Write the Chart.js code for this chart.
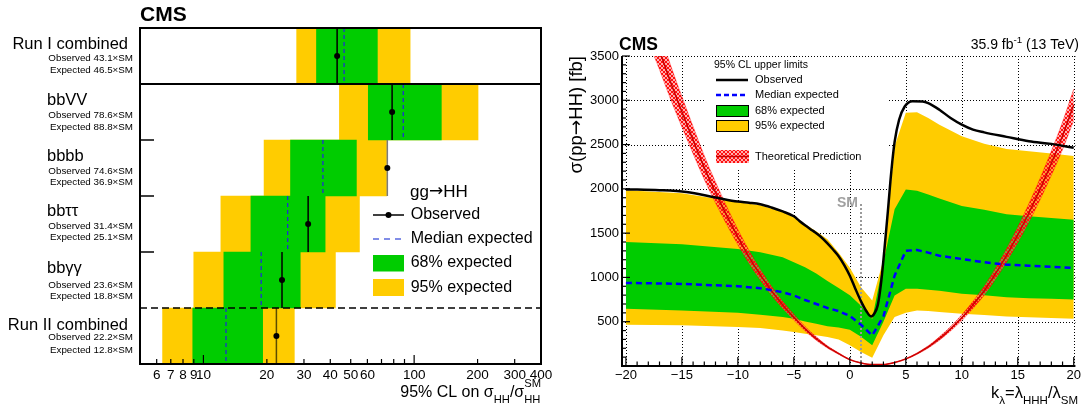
<!DOCTYPE html>
<html>
<head>
<meta charset="utf-8">
<script src="https://cdn.jsdelivr.net/npm/chart.js@4.4.1/dist/chart.umd.min.js"></script>
<style>
  html, body { margin: 0; padding: 0; background: #fff; }
  #wrap { position: relative; width: 1083px; height: 410px; }
  canvas { position: absolute; left: 0; top: 0; }
</style>
</head>
<body>
<div id="wrap">
  <canvas id="left" width="1083" height="410"></canvas>
  <canvas id="right" width="1083" height="410"></canvas>
</div>
<script>
// ---- left panel: limits per channel (x SM) ----
const channels = ['Run I combined', 'bbVV', 'bbbb', 'bbττ', 'bbγγ', 'Run II combined'];
const observed = [43.1, 78.6, 74.6, 31.4, 23.6, 22.2];
const expected = [46.5, 88.8, 36.9, 25.1, 18.8, 12.8];
const lo68 = [34.4, 60.6, 25.9, 16.8, 12.5, 8.9];
const hi68 = [66.9, 134.6, 53.2, 37.8, 28.8, 19.1];
const lo95 = [27.7, 44.2, 19.4, 12.1, 9.0, 6.4];
const hi95 = [95.7, 201, 74.0, 55.0, 42.3, 27.0];
const logTicks = [6, 7, 8, 9, 10, 20, 30, 40, 50, 60, 70, 80, 90, 100, 200, 300, 400];
const logLabels = [6, 7, 8, 9, 10, 20, 30, 40, 50, 60, 100, 200, 300, 400];

// ---- right panel: limits vs k_lambda (fb) ----
const kObs = [-20, -17, -14.6, -12, -10, -9, -8, -7, -6, -5, -4.5, -4, -3.3, -2.7, -2, -1.5, -1, -0.5, 0, 0.5, 1, 1.5, 1.9, 2.2, 2.5, 2.8, 3.1, 3.4, 3.7, 4, 4.4, 4.9, 5.6, 6.5, 7, 8, 9, 10, 11, 12, 14, 16, 18, 20];
const obsLimit = [1994, 1985, 1964, 1903, 1856, 1843, 1826, 1790, 1745, 1690, 1638, 1590, 1526, 1470, 1385, 1315, 1240, 1140, 1020, 870, 730, 615, 560, 595, 690, 950, 1330, 1750, 2190, 2530, 2780, 2930, 2990, 2987, 2968, 2893, 2800, 2725, 2669, 2638, 2587, 2537, 2508, 2463];

const kExp = [-20, -15, -10, -8, -6, -5, -4, -3, -2, -1, 0, 1, 2, 3, 4, 5, 6, 7, 8, 10, 12, 14, 16, 18, 20];
const exp95Hi = [1985, 1950, 1850, 1815, 1740, 1680, 1600, 1520, 1430, 1280, 1110, 890, 740, 1200, 2480, 2860, 2865, 2800, 2725, 2595, 2510, 2450, 2425, 2400, 2370];
const exp68Hi = [1400, 1375, 1320, 1283, 1227, 1171, 1115, 1045, 960, 880, 800, 680, 530, 1170, 1770, 1994, 1978, 1935, 1890, 1807, 1765, 1713, 1690, 1670, 1650];
const expMedian = [938, 927, 901, 879, 834, 796, 745, 700, 655, 620, 565, 465, 345, 560, 1020, 1300, 1310, 1280, 1245, 1208, 1171, 1144, 1133, 1121, 1107];
const exp68Lo = [646, 627, 601, 579, 553, 534, 503, 478, 450, 435, 410, 330, 234, 500, 796, 871, 871, 860, 850, 815, 800, 777, 765, 758, 751];
const exp95Lo = [466, 459, 440, 429, 402, 384, 365, 346, 328, 300, 234, 159, 92, 346, 553, 600, 627, 620, 610, 590, 575, 560, 550, 542, 534];

const kTheo = [-20, -19, -18, -17, -16, -15, -14, -13, -12, -11, -10, -9, -8, -7, -6, -5, -4, -3, -2, -1, 0, 1, 2, 3, 4, 5, 6, 7, 8, 9, 10, 11, 12, 13, 14, 15, 16, 17, 18, 19, 20];
const theory = [4720, 4300, 3900, 3560, 3200, 2870, 2550, 2240, 1960, 1700, 1455, 1230, 1030, 850, 690, 550, 420, 310, 215, 140, 72, 34, 16, 17, 40, 80, 140, 215, 310, 420, 545, 690, 850, 1040, 1250, 1480, 1730, 2000, 2290, 2600, 2950];
const theoryHi = [5003, 4558, 4134, 3774, 3392, 3042, 2703, 2374, 2078, 1802, 1542, 1304, 1092, 901, 731, 583, 445, 329, 228, 148, 76, 36, 17, 18, 42, 85, 148, 228, 329, 445, 578, 731, 901, 1102, 1325, 1569, 1834, 2120, 2427, 2756, 3127];
const theoryLo = [4437, 4042, 3666, 3346, 3008, 2698, 2397, 2106, 1842, 1598, 1368, 1156, 968, 799, 649, 517, 395, 291, 202, 132, 68, 32, 15, 16, 38, 75, 132, 202, 291, 395, 512, 649, 799, 978, 1175, 1391, 1626, 1880, 2153, 2444, 2773];
const smK = 1;
const smTop = 1830;

const FONT = '"Liberation Sans", Arial, Helvetica, sans-serif';
const ARROW_FONT = '"DejaVu Sans", sans-serif';
Chart.defaults.font.family = FONT;
Chart.defaults.color = '#000';

const GREEN = '#00cc00';
const YELLOW = '#ffcc00';

function seg(ctx, x1, y1, x2, y2) {
  ctx.beginPath(); ctx.moveTo(x1, y1); ctx.lineTo(x2, y2); ctx.stroke();
}

// text with sub/superscripts; part = [text, 'n'|'sub'|'sup'|'subsup', subText]
function richText(ctx, x, y, parts, size, align, sub, sup) {
  const big = size + 'px ' + FONT;
  const small = (size * 0.7).toFixed(1) + 'px ' + FONT;
  const w = parts.map(p => {
    ctx.font = p[1] === 'n' ? big : small;
    let ww = ctx.measureText(p[0]).width;
    if (p[2]) ww = Math.max(ww, ctx.measureText(p[2]).width);
    return ww;
  });
  let cx = align === 'right' ? x - w.reduce((s, v) => s + v, 0) : x;
  ctx.textAlign = 'left';
  ctx.textBaseline = 'alphabetic';
  parts.forEach((p, i) => {
    ctx.font = p[1] === 'n' ? big : small;
    if (p[1] === 'n') ctx.fillText(p[0], cx, y);
    else if (p[1] === 'sub') ctx.fillText(p[0], cx, y + size * sub);
    else if (p[1] === 'sup') ctx.fillText(p[0], cx, y - size * sup);
    else { ctx.fillText(p[0], cx, y - size * sup); ctx.fillText(p[2], cx, y + size * sub); }
    cx += w[i];
  });
}

// text where the arrow comes from a font with a full-size arrow glyph
function arrowText(ctx, x, y, text, size, align) {
  const parts = text.split('→');
  const fonts = [size + 'px ' + FONT, size + 'px ' + ARROW_FONT, size + 'px ' + FONT];
  const pieces = [parts[0], '→', parts[1]];
  const w = pieces.map((t, i) => { ctx.font = fonts[i]; return ctx.measureText(t).width; });
  let cx = align === 'right' ? x - (w[0] + w[1] + w[2]) : x;
  ctx.textAlign = 'left';
  pieces.forEach((t, i) => { ctx.font = fonts[i]; ctx.fillText(t, cx, y); cx += w[i]; });
}

function hatch() {
  const c = document.createElement('canvas');
  c.width = 4; c.height = 4;
  const g = c.getContext('2d');
  g.fillStyle = 'rgba(255,110,110,0.55)';
  g.fillRect(0, 0, 4, 4);
  g.fillStyle = '#ff1010';
  [[0, 0], [1, 1], [2, 2], [3, 3], [3, 0], [2, 1], [1, 2], [0, 3]].forEach(p => g.fillRect(p[0], p[1], 1, 1));
  return g.createPattern(c, 'repeat');
}
const HATCH = hatch();

// ================= left panel =================
const obsColors = ['#000', '#000', '#7a7a7a', '#000', '#000', '#5c4c00'];

const leftSets = [
  { type: 'bar', data: channels.map((c, i) => ({ x: [lo68[i], hi68[i]], y: i + 0.5 })),
    backgroundColor: GREEN, borderWidth: 0, grouped: false, categoryPercentage: 1, barPercentage: 1, order: 5 },
  { type: 'bar', data: channels.map((c, i) => ({ x: [lo95[i], hi95[i]], y: i + 0.5 })),
    backgroundColor: YELLOW, borderWidth: 0, grouped: false, categoryPercentage: 1, barPercentage: 1, order: 6 }
];
channels.forEach((c, i) => {
  leftSets.push({ type: 'line', data: [{ x: expected[i], y: i }, { x: expected[i], y: i + 1 }],
    borderColor: '#1f2fd0', borderWidth: 1.3, borderDash: [4, 3], pointRadius: 0, order: 2 });
  leftSets.push({ type: 'line', data: [{ x: observed[i], y: i }, { x: observed[i], y: i + 1 }],
    borderColor: obsColors[i], borderWidth: 1.5, pointRadius: 0, order: 1 });
});
leftSets.push({ type: 'line', data: channels.map((c, i) => ({ x: observed[i], y: i + 0.5 })),
  showLine: false, pointRadius: 3, pointBackgroundColor: '#000', pointBorderWidth: 0, order: 0 });

const leftDeco = {
  id: 'leftDeco',
  afterDatasetsDraw(chart) {
    const { ctx, chartArea: a, scales: { x, y } } = chart;
    ctx.save();
    ctx.strokeStyle = '#000';
    ctx.lineWidth = 2;
    seg(ctx, a.left, y.getPixelForValue(1), a.right, y.getPixelForValue(1));
    ctx.lineWidth = 1.5;
    [2, 3, 4].forEach(r => seg(ctx, a.left, y.getPixelForValue(r), a.left + 14, y.getPixelForValue(r)));
    ctx.setLineDash([7, 4]);
    seg(ctx, a.left, y.getPixelForValue(5), a.right, y.getPixelForValue(5));
    ctx.setLineDash([]);
    ctx.lineWidth = 1.2;
    logTicks.forEach(v => {
      const px = x.getPixelForValue(v);
      seg(ctx, px, a.bottom, px, a.bottom - (v === 10 || v === 100 ? 9 : 5));
    });
    ctx.lineWidth = 2;
    ctx.strokeRect(a.left, a.top, a.right - a.left, a.bottom - a.top);
    ctx.restore();
  },
  afterDraw(chart) {
    const { ctx, scales: { y } } = chart;
    ctx.save();
    ctx.fillStyle = '#000';
    ctx.textBaseline = 'middle';
    ctx.font = 'bold 21px ' + FONT;
    ctx.textAlign = 'left';
    ctx.fillText('CMS', 140, 15);

    const nameDy = [16, 16, 16, 15.7, 16, 17];
    const obsDy = [30.7, 31, 31, 30, 33.7, 29.7];
    const expDy = [42.7, 43, 42, 41.3, 44.7, 42.7];
    channels.forEach((c, i) => {
      const top = y.getPixelForValue(i);
      ctx.font = '16.5px ' + FONT;
      if (c.startsWith('Run')) { ctx.textAlign = 'right'; ctx.fillText(c, 128, top + nameDy[i]); }
      else { ctx.textAlign = 'left'; ctx.fillText(c, 47, top + nameDy[i]); }
      ctx.font = '9.8px ' + FONT;
      ctx.textAlign = 'right';
      ctx.fillText('Observed ' + observed[i] + '×SM', 133, top + obsDy[i]);
      ctx.fillText('Expected ' + expected[i] + '×SM', 133, top + expDy[i]);
    });

    // legend
    arrowText(ctx, 410, 192, 'gg→HH', 17, 'left');
    ctx.textAlign = 'left';
    ctx.font = '16px ' + FONT;
    ctx.strokeStyle = '#000'; ctx.lineWidth = 1.5;
    seg(ctx, 373, 215, 404, 215);
    ctx.beginPath(); ctx.arc(388.5, 215, 3, 0, Math.PI * 2); ctx.fill();
    ctx.fillText('Observed', 410.7, 215);
    ctx.strokeStyle = '#5868e0'; ctx.setLineDash([6, 5]);
    seg(ctx, 373, 239, 404, 239);
    ctx.setLineDash([]);
    ctx.fillText('Median expected', 410.7, 239);
    ctx.fillStyle = GREEN; ctx.fillRect(373, 255, 31, 16.5);
    ctx.fillStyle = YELLOW; ctx.fillRect(373, 279, 31, 17);
    ctx.fillStyle = '#000';
    ctx.fillText('68% expected', 410.7, 263);
    ctx.fillText('95% expected', 410.7, 287.5);

    richText(ctx, 541, 396.5, [['95% CL on σ', 'n'], ['HH', 'sub'], ['/σ', 'n'], ['SM', 'subsup', 'HH']], 16, 'right', 0.38, 0.62);
    ctx.restore();
  }
};

new Chart(document.getElementById('left'), {
  type: 'bar',
  data: { datasets: leftSets },
  options: {
    indexAxis: 'y',
    responsive: false,
    animation: false,
    events: [],
    layout: { padding: { left: 140, right: 542, top: 28, bottom: 0 } },
    plugins: { legend: { display: false }, tooltip: { enabled: false } },
    scales: {
      x: {
        type: 'logarithmic', min: 5, max: 400, offset: false,
        grid: { display: false, drawTicks: false }, border: { display: false },
        afterBuildTicks: s => { s.ticks = logTicks.map(v => ({ value: v })); },
        ticks: { autoSkip: false, maxRotation: 0, minRotation: 0, padding: 3, font: { size: 13.5 },
          callback: v => logLabels.includes(v) ? String(v) : '' },
        afterFit: s => { s.height = 46; }
      },
      y: { type: 'linear', min: 0, max: 6, reverse: true, display: false, offset: false,
        grid: { offset: false }, ticks: { stepSize: 1 } }
    }
  },
  plugins: [leftDeco]
});

// ================= right panel =================
const pts = (xs, ys) => xs.map((x, i) => ({ x, y: ys[i] }));

const rightDeco = {
  id: 'rightDeco',
  beforeDatasetsDraw(chart) {
    const { ctx, chartArea: a, scales: { x, y } } = chart;
    ctx.save();
    ctx.strokeStyle = '#000'; ctx.lineWidth = 1; ctx.setLineDash([1, 2]);
    for (let v = -20; v <= 20; v += 5) {
      const px = Math.round(x.getPixelForValue(v)) + 0.5;
      seg(ctx, px, a.top, px, a.bottom);
    }
    for (let v = 500; v <= 3000; v += 500) {
      const py = Math.round(y.getPixelForValue(v)) + 0.5;
      seg(ctx, a.left, py, a.right, py);
    }
    ctx.setLineDash([]);
    ctx.fillStyle = '#fff';
    ctx.fillRect(704, a.top + 1, 184, 167 - a.top);
    ctx.setLineDash([1, 2]);
    seg(ctx, a.left, a.top + 0.5, a.right, a.top + 0.5);
    ctx.restore();
  },
  afterDatasetsDraw(chart) {
    const { ctx, chartArea: a, scales: { x, y } } = chart;
    ctx.save();
    ctx.strokeStyle = '#000';
    ctx.lineWidth = 1.2;
    for (let k = -20; k <= 20; k += 1) {
      const px = x.getPixelForValue(k);
      seg(ctx, px, a.bottom, px, a.bottom - (k % 5 === 0 ? 9 : 4.5));
    }
    for (let v = 0; v <= 3500; v += 100) {
      const py = y.getPixelForValue(v);
      seg(ctx, a.left, py, a.left + (v % 500 === 0 ? 8 : 4), py);
    }
    ctx.lineWidth = 2;
    seg(ctx, a.left, a.top, a.left, a.bottom + 1);
    seg(ctx, a.left - 1, a.bottom, a.right, a.bottom);
    ctx.restore();
  },
  afterDraw(chart) {
    const { ctx, scales: { x, y } } = chart;
    ctx.save();
    ctx.fillStyle = '#000';
    ctx.textBaseline = 'middle';
    ctx.textAlign = 'left';
    ctx.font = 'bold 17.5px ' + FONT;
    ctx.fillText('CMS', 619, 45);
    richText(ctx, 1079, 49, [['35.9 fb', 'n'], ['-1', 'sup'], [' (13 TeV)', 'n']], 14, 'right', 0.3, 0.45);
    richText(ctx, 1078, 398, [['k', 'n'], ['λ', 'sub'], ['=λ', 'n'], ['HHH', 'sub'], ['/λ', 'n'], ['SM', 'sub']], 16.5, 'right', 0.36, 0.45);

    ctx.save();
    ctx.translate(577, 56);
    ctx.rotate(-Math.PI / 2);
    ctx.textBaseline = 'middle';
    arrowText(ctx, 0, 0, 'σ(pp→HH) [fb]', 18.5, 'right');
    ctx.restore();

    // SM marker label
    ctx.fillStyle = '#a0a0a0';
    ctx.font = 'bold 14px ' + FONT;
    ctx.textAlign = 'right';
    ctx.textBaseline = 'middle';
    ctx.fillText('SM', x.getPixelForValue(smK) - 3, y.getPixelForValue(smTop) - 1);

    // legend
    ctx.fillStyle = '#000';
    ctx.textAlign = 'left';
    ctx.font = '10.5px ' + FONT;
    ctx.fillText('95% CL upper limits', 714, 65);
    ctx.font = '11px ' + FONT;
    ctx.strokeStyle = '#000'; ctx.lineWidth = 2.5;
    seg(ctx, 716, 80, 748, 80);
    ctx.fillText('Observed', 755, 80);
    ctx.strokeStyle = '#0000ff'; ctx.setLineDash([5, 3]);
    seg(ctx, 716, 95, 748, 95);
    ctx.setLineDash([]);
    ctx.fillText('Median expected', 755, 95);
    ctx.lineWidth = 1; ctx.strokeStyle = '#000';
    ctx.fillStyle = GREEN; ctx.fillRect(716.5, 105.5, 32, 11); ctx.strokeRect(716.5, 105.5, 32, 11);
    ctx.fillStyle = YELLOW; ctx.fillRect(716.5, 120.5, 32, 11); ctx.strokeRect(716.5, 120.5, 32, 11);
    ctx.fillStyle = '#000';
    ctx.fillText('68% expected', 755, 111);
    ctx.fillText('95% expected', 755, 126);
    ctx.fillStyle = HATCH; ctx.fillRect(716, 150, 33, 13);
    ctx.strokeStyle = '#cc0000'; ctx.lineWidth = 1.5;
    seg(ctx, 716, 156.5, 749, 156.5);
    ctx.fillStyle = '#000';
    ctx.fillText('Theoretical Prediction', 755, 157);
    ctx.restore();
  }
};

const rightSets = [
  { data: pts(kObs, obsLimit), borderColor: '#000', borderWidth: 2.5, pointRadius: 0,
    cubicInterpolationMode: 'monotone', fill: false, order: 0 },
  { data: pts(kExp, expMedian), borderColor: '#0000ff', borderWidth: 2.5, borderDash: [6, 4],
    pointRadius: 0, tension: 0, fill: false, order: 1 },
  { data: [{ x: smK, y: 0 }, { x: smK, y: smTop }], borderColor: '#9a9a9a', borderWidth: 2,
    borderDash: [2, 2], pointRadius: 0, fill: false, order: 2 },
  { data: pts(kTheo, theory), borderColor: '#cc0000', borderWidth: 1.5, pointRadius: 0,
    cubicInterpolationMode: 'monotone', fill: false, order: 3 },
  { data: pts(kTheo, theoryHi), borderColor: 'rgba(255,0,0,0.6)', borderWidth: 0.6, pointRadius: 0,
    cubicInterpolationMode: 'monotone', fill: '+1', backgroundColor: HATCH, order: 4 },
  { data: pts(kTheo, theoryLo), borderColor: 'rgba(255,0,0,0.6)', borderWidth: 0.6, pointRadius: 0,
    cubicInterpolationMode: 'monotone', fill: false, order: 4 },
  { data: pts(kExp, exp68Hi), borderColor: 'transparent', borderWidth: 0, pointRadius: 0,
    tension: 0, fill: '+1', backgroundColor: GREEN, order: 5 },
  { data: pts(kExp, exp68Lo), borderColor: 'transparent', borderWidth: 0, pointRadius: 0,
    tension: 0, fill: false, order: 5 },
  { data: pts(kExp, exp95Hi), borderColor: 'transparent', borderWidth: 0, pointRadius: 0,
    tension: 0, fill: '+1', backgroundColor: YELLOW, order: 6 },
  { data: pts(kExp, exp95Lo), borderColor: 'transparent', borderWidth: 0, pointRadius: 0,
    tension: 0, fill: false, order: 6 }
];

new Chart(document.getElementById('right'), {
  type: 'line',
  data: { datasets: rightSets },
  options: {
    responsive: false,
    animation: false,
    events: [],
    layout: { padding: { left: 560, right: 6, top: 56, bottom: 0 } },
    plugins: { legend: { display: false }, tooltip: { enabled: false } },
    scales: {
      x: {
        type: 'linear', min: -20.35, max: 20.15,
        grid: { display: false, drawTicks: false }, border: { display: false },
        ticks: { stepSize: 5, includeBounds: false, maxRotation: 0, padding: 2, font: { size: 13 },
          callback: v => String(v).replace('-', '\u2212') },
        afterFit: s => { s.height = 44; }
      },
      y: {
        type: 'linear', min: 0, max: 3500,
        grid: { display: false, drawTicks: false }, border: { display: false },
        ticks: { stepSize: 500, padding: 3, font: { size: 13 }, callback: v => v === 0 ? '' : v },
        afterFit: s => { s.width = 62; }
      }
    }
  },
  plugins: [rightDeco]
});
</script>
</body>
</html>
